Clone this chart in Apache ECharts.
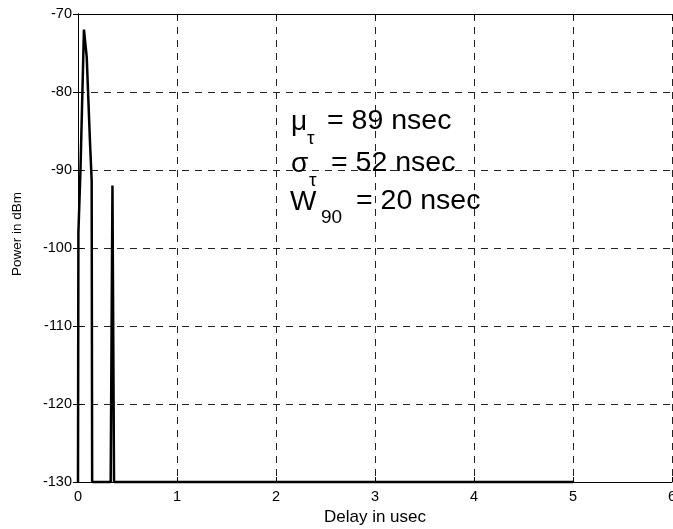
<!DOCTYPE html>
<html>
<head>
<meta charset="utf-8">
<script src="https://cdn.jsdelivr.net/npm/echarts@6/dist/echarts.min.js"></script>
<style>
html,body{margin:0;padding:0;background:#fff;}
#chart{width:673px;height:529px;}
</style>
</head>
<body>
<div id="chart"></div>
<script>
// Data
const delays = [0, 0.004, 0.025, 0.06, 0.088, 0.121, 0.138, 0.143, 0.33, 0.348, 0.364, 5.0];
const power  = [-130, -98, -90, -72, -75.5, -86.4, -91.3, -130, -130, -92, -130, -130];
const xTicks = [0, 1, 2, 3, 4, 5, 6];
const yTicks = [-130, -120, -110, -100, -90, -80, -70];
const xLabel = 'Delay in usec';
const yLabel = 'Power in dBm';
const stats = [
  {sym: 'μ', sub: 'τ', text: '= 89 nsec'},
  {sym: 'σ', sub: 'τ', text: '= 52 nsec'},
  {sym: 'W', sub: '90', text: '= 20 nsec'}
];

const FONT = 'Liberation Sans';
const chart = echarts.init(document.getElementById('chart'), null, {renderer: 'canvas'});
const seriesData = delays.map((d, i) => [d, power[i]]);

const gridLine = {show: true, lineStyle: {color: '#222', width: 1, type: [7, 6]}};
const axLine = {show: true, lineStyle: {color: '#000', width: 1}};
const tick = {show: true, inside: true, length: 5, lineStyle: {color: '#000'}};

const graphics = [
  {type: 'text', x: 17, y: 234, rotation: Math.PI / 2,
   style: {text: yLabel, font: '13.5px "' + FONT + '"', fill: '#000', textAlign: 'center', textVerticalAlign: 'middle'}}
];
// annotation layout (text positions only); y = bottom of em box
const lines = [
  {x: 291, base: 136, subX: 307, subBase: 148, eqX: 327},
  {x: 291, base: 178, subX: 309, subBase: 190, eqX: 331},
  {x: 290, base: 216, subX: 321, subBase: 227, eqX: 356}
];
stats.forEach((s, i) => {
  const L = lines[i];
  graphics.push({type: 'text', x: L.x, y: L.base, style: {text: s.sym, font: '28px "' + FONT + '"', fill: '#000', textVerticalAlign: 'bottom'}, z: 100});
  graphics.push({type: 'text', x: L.subX, y: L.subBase, style: {text: s.sub, font: '19px "' + FONT + '"', fill: '#000', textVerticalAlign: 'bottom'}, z: 100});
  graphics.push({type: 'text', x: L.eqX, y: L.base, style: {text: s.text, font: '28.5px "' + FONT + '"', fill: '#000', textVerticalAlign: 'bottom'}, z: 100});
});

chart.setOption({
  backgroundColor: '#fff',
  animation: false,
  textStyle: {fontFamily: FONT},
  grid: {left: 78, right: 1, top: 14, bottom: 47, containLabel: false, outerBoundsMode: 'none'},
  xAxis: [
    {type: 'value', min: xTicks[0], max: xTicks[xTicks.length - 1], interval: 1,
     name: xLabel, nameLocation: 'middle', nameGap: 27,
     nameTextStyle: {fontFamily: FONT, fontSize: 17, color: '#000'},
     axisLine: Object.assign({onZero: false}, axLine), axisTick: tick,
     axisLabel: {color: '#000', fontFamily: FONT, fontSize: 14.5, margin: 7, showMaxLabel: true, showMinLabel: true, hideOverlap: false},
     splitLine: gridLine},
    {type: 'value', position: 'top', min: xTicks[0], max: xTicks[xTicks.length - 1], interval: 1,
     axisLine: axLine, axisTick: tick, axisLabel: {show: false}, splitLine: {show: false}}
  ],
  yAxis: [
    {type: 'value', min: yTicks[0], max: yTicks[yTicks.length - 1], interval: 10,
     axisLine: Object.assign({onZero: false}, axLine), axisTick: tick,
     axisLabel: {color: '#000', fontFamily: FONT, fontSize: 14.5, margin: 6},
     splitLine: gridLine},
    {type: 'value', position: 'right', min: yTicks[0], max: yTicks[yTicks.length - 1], interval: 10,
     axisLine: axLine, axisTick: tick, axisLabel: {show: false}, splitLine: {show: false}}
  ],
  series: [{
    type: 'line', data: seriesData, xAxisIndex: 0, yAxisIndex: 0,
    showSymbol: false, symbol: 'none', clip: false,
    lineStyle: {color: '#000', width: 2.5}, z: 10
  }],
  graphic: graphics
});
</script>
</body>
</html>
